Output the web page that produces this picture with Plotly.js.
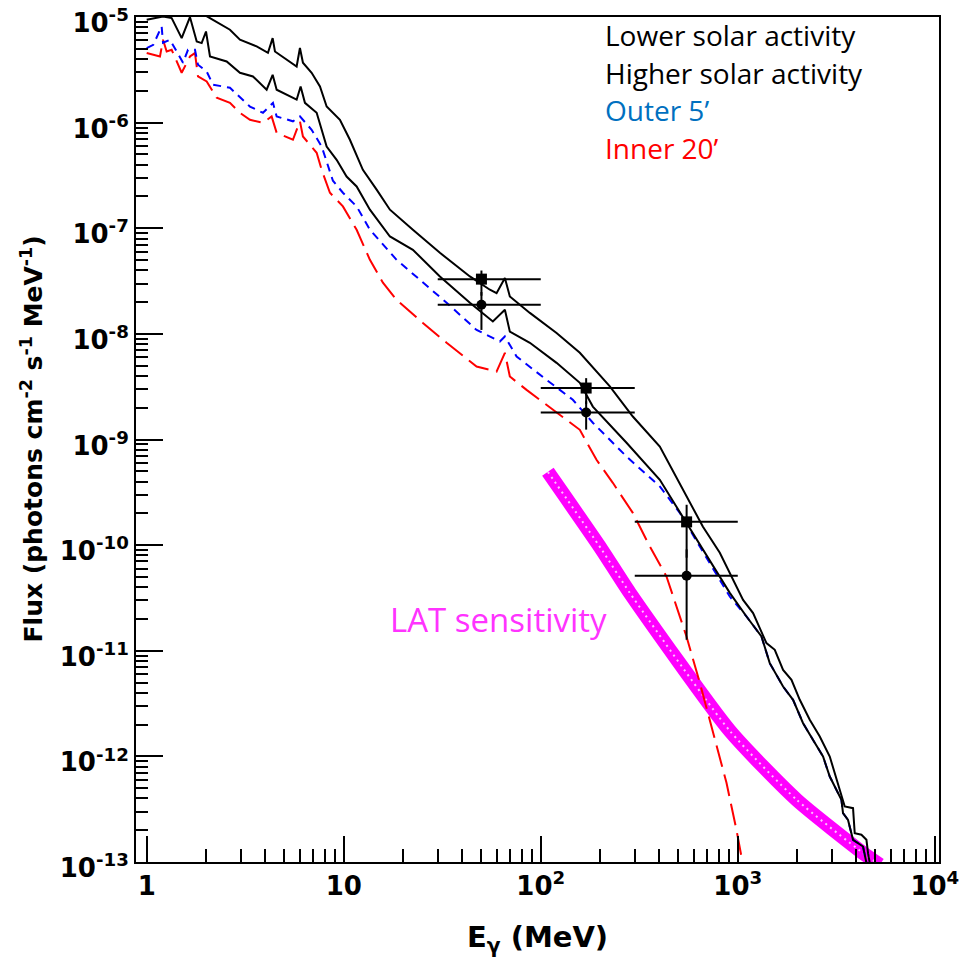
<!DOCTYPE html>
<html>
<head>
<meta charset="utf-8">
<script src="https://cdn.plot.ly/plotly-3.0.1.min.js"></script>
<style>html,body{margin:0;padding:0;background:#fff;}#chart{width:963px;height:958px;}</style>
</head>
<body>
<div id="chart"></div>
<script>
// ---------- data ----------
// Upper solid black curve
const energyUpper = [1.0, 1.6, 2.137, 2.646, 2.974, 3.615, 4.125, 4.358, 4.477, 5.133, 5.768, 5.995, 6.209, 6.873, 7.575, 8.191, 9.566, 10.75, 12.51, 14.69, 17.16, 22.44, 30.77, 43.69, 55.19, 59.67, 65.77, 69.68, 88.05, 120.3, 157.9, 224.2, 293.3, 402.1, 549.2, 664.5, 810.5, 1064, 1196, 1398, 1541, 1698, 1873, 2064, 2319, 2607, 2930, 3105, 3358, 3491, 3846, 3923, 4242, 4498, 4583, 4675];
const fluxUpper = [1.4e-5, 1.3e-5, 9.57e-6, 7.58e-6, 6.10e-6, 5.27e-6, 4.59e-6, 6.32e-6, 4.72e-6, 3.94e-6, 3.40e-6, 5.09e-6, 3.69e-6, 2.97e-6, 2.20e-6, 1.42e-6, 1.065e-6, 6.89e-7, 3.58e-7, 2.32e-7, 1.50e-7, 9.68e-8, 5.86e-8, 3.50e-8, 2.62e-8, 2.43e-8, 3.38e-8, 2.26e-8, 1.58e-8, 1.02e-8, 6.62e-9, 3.18e-9, 1.65e-9, 8.59e-10, 2.88e-10, 1.50e-10, 8.46e-11, 3.03e-11, 2.27e-11, 1.18e-11, 1.02e-11, 6.59e-12, 5.30e-12, 3.43e-12, 2.22e-12, 1.54e-12, 9.96e-13, 6.93e-13, 4.48e-13, 3.35e-13, 3.23e-13, 1.87e-13, 1.81e-13, 1.62e-13, 1.21e-13, 9.8e-14];

// Lower solid black curve
const energyLower = [1.0, 1.102, 1.210, 1.339, 1.505, 1.658, 1.794, 1.901, 2.0, 2.095, 2.546, 2.974, 3.462, 4.063, 4.358, 4.567, 5.133, 5.768, 6.043, 6.356, 7.289, 7.727, 8.191, 9.205, 10.34, 11.63, 13.58, 17.16, 22.44, 30.77, 43.69, 57.15, 65.77, 69.68, 88.05, 120.3, 157.9, 183.8, 272.5, 402.1, 549.2, 721.1, 910.8, 1107, 1319, 1453, 1698, 1908, 2145, 2411, 2709, 2930, 3168, 3358, 3421, 3627, 3846, 4322, 4498];
const fluxLower = [9.43e-6, 9.78e-6, 1.013e-5, 9.78e-6, 6.32e-6, 1.0e-5, 5.87e-6, 5.67e-6, 7.30e-6, 4.23e-6, 3.80e-6, 2.97e-6, 2.74e-6, 2.05e-6, 2.84e-6, 2.05e-6, 1.84e-6, 1.65e-6, 2.20e-6, 1.54e-6, 1.24e-6, 8.57e-7, 5.95e-7, 4.45e-7, 3.09e-7, 2.49e-7, 1.50e-7, 8.36e-8, 6.26e-8, 3.50e-8, 1.97e-8, 1.31e-8, 1.69e-8, 1.05e-8, 8.24e-9, 5.32e-9, 3.44e-9, 2.05e-9, 9.31e-10, 4.15e-10, 1.63e-10, 7.26e-11, 3.53e-11, 2.11e-11, 1.363e-11, 7.63e-12, 4.58e-12, 3.43e-12, 2.06e-12, 1.43e-12, 9.96e-13, 6.44e-13, 4.82e-13, 3.87e-13, 2.90e-13, 2.50e-13, 1.62e-13, 1.40e-13, 9.8e-14];

// Outer 5' (blue short dashes)
const energyOuter = [1.0, 1.080, 1.191, 1.210, 1.313, 1.360, 1.529, 1.620, 1.758, 1.821, 2.016, 2.170, 2.646, 3.343, 3.892, 4.374, 4.567, 5.524, 5.995, 6.873, 7.727, 8.814, 9.906, 11.63, 13.58, 18.55, 25.23, 33.28, 47.24, 62.02, 65.77, 75.39, 107.0, 145.5, 183.8, 272.5, 402.1, 507.8, 641.7, 910.8, 1107, 1319, 1453, 1698, 1908, 2145, 2411, 2709, 2930, 3168, 3358, 3421, 3627, 3846, 4322, 4498];
const fluxOuter = [5.09e-6, 5.46e-6, 8.15e-6, 5.71e-6, 6.10e-6, 5.46e-6, 3.69e-6, 4.90e-6, 4.90e-6, 3.53e-6, 3.05e-6, 2.29e-6, 2.14e-6, 1.42e-6, 1.24e-6, 1.54e-6, 1.145e-6, 1.03e-6, 1.145e-6, 8.57e-7, 5.95e-7, 2.82e-7, 2.17e-7, 1.61e-7, 9.68e-8, 5.03e-8, 3.05e-8, 1.97e-8, 1.09e-8, 8.47e-9, 9.45e-9, 6.11e-9, 3.67e-9, 2.38e-9, 1.44e-9, 6.90e-10, 3.59e-10, 2.02e-10, 9.70e-11, 3.26e-11, 2.11e-11, 1.363e-11, 7.63e-12, 4.58e-12, 3.43e-12, 2.06e-12, 1.43e-12, 9.96e-13, 6.44e-13, 4.82e-13, 3.87e-13, 2.90e-13, 2.50e-13, 1.62e-13, 1.40e-13, 9.8e-14];

// Inner 20' (red long dashes)
const energyInner = [1.0, 1.168, 1.210, 1.263, 1.339, 1.505, 1.658, 1.758, 1.821, 2.016, 2.266, 2.646, 2.974, 3.343, 3.892, 4.307, 4.567, 5.524, 5.995, 6.209, 7.289, 7.727, 8.511, 9.906, 11.63, 13.58, 15.81, 18.55, 25.23, 33.28, 47.24, 59.67, 65.77, 69.68, 84.72, 98.9, 125.0, 157.9, 191.9, 232.2, 293.3, 357.7, 434.8, 488.6, 549.2, 641.7, 746.8, 876.4, 984.9, 1044, 1080];
const fluxInner = [4.56e-6, 4.23e-6, 6.10e-6, 4.72e-6, 4.90e-6, 2.97e-6, 4.23e-6, 4.56e-6, 2.74e-6, 2.46e-6, 1.72e-6, 1.54e-6, 1.24e-6, 1.065e-6, 9.98e-7, 1.145e-6, 8.02e-7, 6.89e-7, 1.03e-6, 7.40e-7, 5.19e-7, 3.58e-7, 2.17e-7, 1.61e-7, 9.68e-8, 5.03e-8, 3.05e-8, 2.10e-8, 1.27e-8, 8.24e-9, 4.91e-9, 4.40e-9, 6.62e-9, 3.95e-9, 2.95e-9, 2.38e-9, 1.71e-9, 1.235e-9, 6.42e-10, 3.89e-10, 2.02e-10, 9.70e-11, 5.04e-11, 2.62e-11, 1.363e-11, 4.97e-12, 1.67e-12, 5.61e-13, 2.01e-13, 1.047e-13, 8.0e-14];

// LAT sensitivity (magenta band)
const energyLAT = [108.7, 204.2, 283.1, 910.8, 1992, 4308, 5253];
const fluxLAT = [4.94e-10, 9.03e-11, 3.53e-11, 1.744e-12, 3.87e-13, 1.22e-13, 9.39e-14];

// Measured points
const pointEnergy = [50, 170, 550];
const pointEnergyMinus = [20, 70, 250];
const pointEnergyPlus = [50, 130, 450];
const squareFlux = [3.30e-8, 3.07e-9, 1.66e-10];
const squarePlus = [0.68e-8, 0.74e-9, 0.75e-10];
const squareMinus = [1.0e-8, 0.9e-9, 0.9e-10];
const circleFlux = [1.89e-8, 1.80e-9, 5.12e-11];
const circlePlus = [0.6e-8, 0.5e-9, 4.0e-11];
const circleMinus = [0.8e-8, 0.56e-9, 3.85e-11];

// Tick labels
const xTickVals = [1, 10, 100, 1000, 10000];
const xTickText = ['1', '10', '10<sup>2</sup>', '10<sup>3</sup>', '10<sup>4</sup>'];
const yTickVals = [1e-13, 1e-12, 1e-11, 1e-10, 1e-9, 1e-8, 1e-7, 1e-6, 1e-5];
const yTickText = ['10<sup>-13</sup>', '10<sup>-12</sup>', '10<sup>-11</sup>', '10<sup>-10</sup>', '10<sup>-9</sup>', '10<sup>-8</sup>', '10<sup>-7</sup>', '10<sup>-6</sup>', '10<sup>-5</sup>'];

// Text labels
const labelTexts = ['Lower solar activity', 'Higher solar activity', 'Outer 5’', 'Inner 20’'];
const labelColors = ['#000000', '#000000', '#0070c0', '#ff0000'];
const latLabel = 'LAT sensitivity';
const yTitle = 'Flux (photons cm<sup>-2</sup> s<sup>-1</sup> MeV<sup>-1</sup>)';
const xTitle = 'E<sub>γ</sub> (MeV)';

// ---------- build ----------
const minorX = [];
for (let k = 0; k < 4; k++) for (let m = 2; m <= 9; m++) minorX.push(m * Math.pow(10, k));
const minorY = [];
for (let k = -13; k < -5; k++) for (let m = 2; m <= 9; m++) minorY.push(m * Math.pow(10, k));

const traces = [
  {x: energyLAT, y: fluxLAT, mode: 'lines', line: {color: '#ff00ff', width: 14, shape: 'spline', smoothing: 0.6}, hoverinfo: 'skip'},
  {x: energyLAT, y: fluxLAT, mode: 'lines', line: {color: '#ffc0ff', width: 2, dash: '2px,4px', shape: 'spline', smoothing: 0.6}, hoverinfo: 'skip'},
  {x: energyInner, y: fluxInner, mode: 'lines', name: 'Inner 20’', line: {color: '#ff0000', width: 2, dash: '22px,8px'}},
  {x: energyOuter, y: fluxOuter, mode: 'lines', name: 'Outer 5’', line: {color: '#0000ff', width: 2, dash: '8px,6px'}},
  {x: energyLower, y: fluxLower, mode: 'lines', name: 'Higher solar activity', line: {color: '#000000', width: 2}},
  {x: energyUpper, y: fluxUpper, mode: 'lines', name: 'Lower solar activity', line: {color: '#000000', width: 2}},
  {x: pointEnergy, y: squareFlux, mode: 'markers', marker: {symbol: 'square', size: 11, color: '#000'},
   error_x: {type: 'data', symmetric: false, array: pointEnergyPlus, arrayminus: pointEnergyMinus, color: '#000', thickness: 2, width: 0},
   error_y: {type: 'data', symmetric: false, array: squarePlus, arrayminus: squareMinus, color: '#000', thickness: 2, width: 0}},
  {x: pointEnergy, y: circleFlux, mode: 'markers', marker: {symbol: 'circle', size: 10, color: '#000'},
   error_x: {type: 'data', symmetric: false, array: pointEnergyPlus, arrayminus: pointEnergyMinus, color: '#000', thickness: 2, width: 0},
   error_y: {type: 'data', symmetric: false, array: circlePlus, arrayminus: circleMinus, color: '#000', thickness: 2, width: 0}}
];

const boldFont = 'DejaVu Sans, Liberation Sans, sans-serif';
const tickFont = {family: boldFont, size: 26, color: '#000', weight: 700};
const annY = [0.979, 0.934, 0.890, 0.845];
const annotations = labelTexts.map((t, i) => ({
  text: t, xref: 'paper', yref: 'paper', x: 0.5816, y: annY[i], xanchor: 'left', yanchor: 'middle',
  showarrow: false, font: {family: 'Open Sans, Lato, sans-serif', size: 28, color: labelColors[i]}
}));
annotations.push({text: latLabel, xref: 'paper', yref: 'paper', x: 0.3138, y: 0.2867, xanchor: 'left', yanchor: 'middle',
  showarrow: false, font: {family: 'Open Sans, Lato, sans-serif', size: 33, color: '#ff33ff'}});
// y-axis title placed at its reference spot (overlapping the labels slightly, as in the original)
annotations.push({text: yTitle, xref: 'paper', yref: 'paper', x: -0.1295, y: 0.5, xanchor: 'center', yanchor: 'middle',
  textangle: -90, showarrow: false, font: {family: boldFont, size: 25, color: '#000', weight: 700}});

const layout = {
  width: 963, height: 958,
  margin: {l: 136, r: 24, t: 17, b: 96, pad: 0},
  paper_bgcolor: '#ffffff', plot_bgcolor: '#ffffff',
  showlegend: false,
  xaxis: {
    type: 'log', range: [Math.log10(0.8825), Math.log10(10503)], autorange: false,
    showgrid: false, zeroline: false, showline: true, mirror: true, linecolor: '#000', linewidth: 2,
    ticks: 'inside', ticklen: 26, tickwidth: 2, tickcolor: '#000', ticklabeloverflow: 'allow',
    tickmode: 'array', tickvals: xTickVals, ticktext: xTickText, tickfont: tickFont,
    minor: {ticks: 'inside', ticklen: 13, tickwidth: 2, tickcolor: '#000', tickmode: 'array', tickvals: minorX, showgrid: false},
    title: {text: xTitle, font: {family: boldFont, size: 29, color: '#000', weight: 700}, standoff: 26}
  },
  yaxis: {
    type: 'log', range: [-13.0005, -4.9995], autorange: false,
    showgrid: false, zeroline: false, showline: true, mirror: true, linecolor: '#000', linewidth: 2,
    ticks: 'inside', ticklen: 27, tickwidth: 2, tickcolor: '#000', ticklabeloverflow: 'allow', ticklabelshift: 6,
    tickmode: 'array', tickvals: yTickVals, ticktext: yTickText, tickfont: tickFont,
    minor: {ticks: 'inside', ticklen: 12, tickwidth: 2, tickcolor: '#000', tickmode: 'array', tickvals: minorY, showgrid: false}
  },
  annotations: annotations
};

Plotly.newPlot('chart', traces, layout, {staticPlot: true, displayModeBar: false});
</script>
</body>
</html>
